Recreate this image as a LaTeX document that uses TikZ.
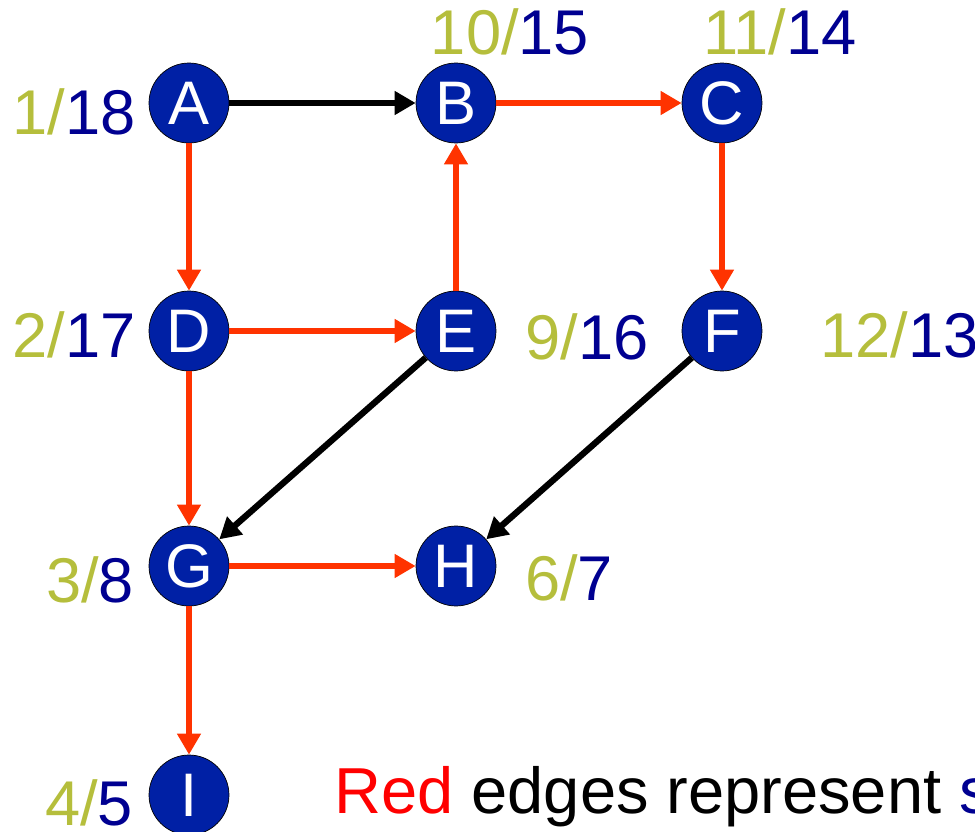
\documentclass[tikz,border=0pt]{standalone}
\usepackage{fontspec}
\setmainfont{Liberation Sans}
\usetikzlibrary{arrows.meta}

\definecolor{vertexblue}{RGB}{0,32,165}
\definecolor{discgreen}{RGB}{181,190,60}
\definecolor{finblue}{RGB}{0,0,145}
\definecolor{treered}{RGB}{255,51,0}
\newcommand{\dftime}[2]{\textcolor{discgreen}{#1/}\textcolor{finblue}{#2}}

\begin{document}
\begin{tikzpicture}[
    x=0.02cm, y=-0.02cm,
    >={Triangle[length=12pt,width=13pt]},
    vertex/.style={circle,draw=black,thin,fill=vertexblue,text=white,
        minimum size=1.6cm,inner sep=0pt,font=\fontsize{35}{40}\selectfont},
    stamp/.style={inner sep=0pt,font=\fontsize{36}{40}\selectfont},
    tree/.style={->,treered,line width=3.6pt},
    other/.style={->,black,line width=3.6pt},
]
\clip (0,0) rectangle (975,832);

% vertices
\node[vertex] (A) at (189,103) {A};
\node[vertex] (B) at (456,103) {B};
\node[vertex] (C) at (722,103) {C};
\node[vertex] (D) at (189,331) {D};
\node[vertex] (E) at (456,331) {E};
\node[vertex] (F) at (722,331) {F};
\node[vertex] (G) at (189,566) {G};
\node[vertex] (H) at (456,566) {H};
\node[vertex] (I) at (189,795) {I};

% discovery/finish times
\node[stamp,anchor=east] (tA) at (136,112) {\dftime{1}{18}};
\node[stamp] (tB) at (510,32) {\dftime{10}{15}};
\node[stamp] (tC) at (780,32) {\dftime{11}{14}};
\node[stamp,anchor=east] (tD) at (136,335) {\dftime{2}{17}};
\node[stamp] (tE) at (587,337) {\dftime{9}{16}};
\node[stamp,anchor=west] (tF) at (820,335) {\dftime{12}{13}};
\node[stamp] (tG) at (90,580) {\dftime{3}{8}};
\node[stamp] (tH) at (569,578) {\dftime{6}{7}};
\node[stamp] (tI) at (89,803) {\dftime{4}{5}};

% tree edges
\draw[tree] (B) -- (C);
\draw[tree] (C) -- (F);
\draw[tree] (A) -- (D);
\draw[tree] (D) -- (E);
\draw[tree] (E) -- (B);
\draw[tree] (D) -- (G);
\draw[tree] (G) -- (H);
\draw[tree] (G) -- (I);

% other edges
\draw[other] (A) -- (B);
\draw[other] (E) -- (G);
\draw[other] (F) -- (H);

\node[stamp,anchor=base west,font=\fontsize{37}{40}\selectfont] (note) at (334,813)
    {\textcolor{red}{Red} edges represent \textcolor{finblue}{s}};
\end{tikzpicture}
\end{document}
